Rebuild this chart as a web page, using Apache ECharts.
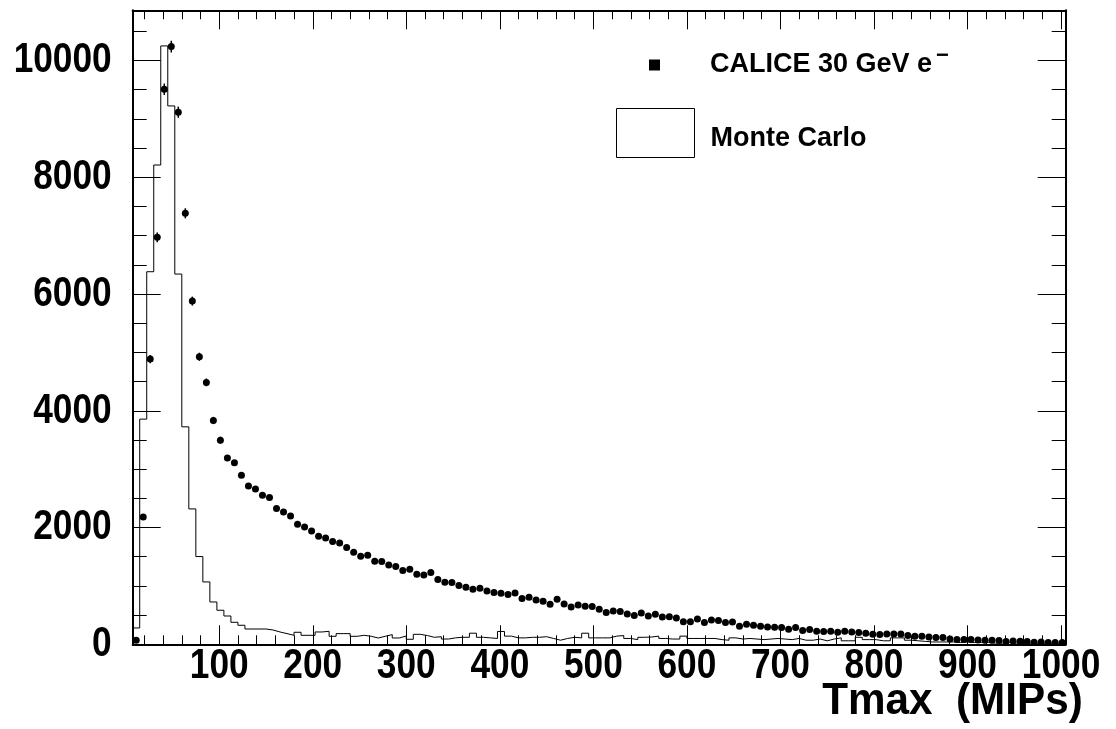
<!DOCTYPE html>
<html><head><meta charset="utf-8">
<script src="https://cdn.jsdelivr.net/npm/echarts@6/dist/echarts.min.js"></script>
<style>html,body{margin:0;padding:0;background:#fff}#c{width:1116px;height:729px}</style>
</head><body><div id="c"></div>
<script>
// Histogram binning (Tmax in MIPs)
const binLow = 7.5;
const binWidth = 7.5;

// CALICE 30 GeV e- data, counts per bin
const dataValues = [
  69, 2182, 4885, 6971, 9508, 10238, 9114, 7383, 5879, 4925,
  4486, 3834, 3497, 3193, 3108, 2897, 2713, 2662, 2554, 2515,
  2326, 2268, 2199, 2057, 2011, 1942, 1851, 1822, 1760, 1736,
  1658, 1577, 1508, 1526, 1423, 1418, 1359, 1332, 1263, 1286,
  1200, 1188, 1229, 1109, 1063, 1058, 1006, 977, 943, 960,
  914, 886, 874, 852, 879, 783, 806, 759, 737, 686,
  771, 691, 639, 674, 651, 646, 600, 543, 571, 560,
  519, 495, 537, 485, 514, 466, 472, 450, 385, 385,
  434, 372, 417, 406, 372, 382, 309, 343, 326, 309,
  297, 291, 286, 257, 286, 235, 252, 223, 218, 223,
  206, 223, 211, 200, 189, 171, 166, 177, 177, 177,
  149, 137, 137, 125, 115, 115, 91, 81, 81, 81,
  74, 69, 69, 63, 46, 57, 51, 46, 34, 39,
  29, 29, 29
];
// visible error bars on the first bins
const dataErrors = [0, 47, 70, 84, 98, 101, 96, 86, 77, 70, 67, 62, 59];

// Monte Carlo histogram, counts per bin
const mcValues = [
  280, 3857, 6382, 8210, 10250, 9222, 6342, 3725, 2319, 1503,
  1068, 725, 583, 485, 377, 326, 262, 262, 262, 245,
  211, 183, 154, 206, 154, 154, 211, 223, 137, 183,
  183, 137, 154, 137, 108, 137, 166, 108, 142, 86,
  171, 150, 120, 130, 90, 110, 120, 120, 190, 120,
  110, 100, 220, 140, 110, 110, 120, 120, 130, 100,
  70, 100, 120, 110, 190, 110, 110, 110, 140, 150,
  100, 80, 120, 125, 140, 100, 90, 90, 140, 100,
  100, 100, 100, 80, 70, 110, 90, 100, 90, 80,
  90, 100, 90, 80, 100, 70, 70, 90, 60, 90,
  110, 60, 60, 120, 80, 80, 60, 60, 110, 110,
  70, 60, 50, 40, 40, 40, 40, 30, 40, 30,
  30, 30, 20, 20, 30, 20, 20, 20, 20, 20,
  20, 20, 20
];

// Axis ticks / labels
const xMajorTicks = [100, 200, 300, 400, 500, 600, 700, 800, 900, 1000];
const yMajorTicks = [0, 2000, 4000, 6000, 8000, 10000];
const xMinorTicks = [];
for (let v = 20; v <= 1000; v += 20) if (v % 100 !== 0) xMinorTicks.push(v);
const yMinorTicks = [];
for (let v = 500; v <= 10500; v += 500) if (v % 2000 !== 0) yMinorTicks.push(v);

const xTitle = 'Tmax  (MIPs)';
const legendData = 'CALICE 30 GeV e';
const legendMC = 'Monte Carlo';

const xMin = binLow, xMax = binLow + binWidth * mcValues.length;
const yMin = 0, yMax = 10860;

const dataPoints = dataValues.map((v, i) => [binLow + binWidth * (i + 0.5), v]);
const errPoints = dataErrors.map((e, i) => [binLow + binWidth * (i + 0.5), dataValues[i] - e, dataValues[i] + e]);
const mcPoints = mcValues.map((v, i) => [binLow + binWidth * i, v]);
mcPoints.push([xMax, mcValues[mcValues.length - 1]]);

const sans = '"Liberation Sans", Arial, Helvetica, sans-serif';
const black = '#000';
const condense = 0.82; // Helvetica-Bold rendered narrow, as in the reference

function xAx(pos, ticks, len, line) {
  return {
    type: 'value', min: xMin, max: xMax, position: pos,
    axisLine: { show: line, onZero: false, lineStyle: { color: black, width: 2 } },
    axisTick: { show: true, inside: true, length: len, customValues: ticks, lineStyle: { color: black, width: 1 } },
    axisLabel: { show: false },
    splitLine: { show: false }
  };
}
function yAx(pos, ticks, len, line) {
  return {
    type: 'value', min: yMin, max: yMax, position: pos,
    axisLine: { show: line, onZero: false, lineStyle: { color: black, width: 2 } },
    axisTick: { show: true, inside: true, length: len, customValues: ticks, lineStyle: { color: black, width: 1 } },
    axisLabel: { show: false },
    splitLine: { show: false }
  };
}

const chart = echarts.init(document.getElementById('c'), null, { renderer: 'canvas' });
chart.setOption({
  backgroundColor: '#fff',
  animation: false,
  grid: { left: 132.7, right: 50.3, top: 10.3, bottom: 84.7, show: false, containLabel: false, outerBoundsMode: 'none' },
  xAxis: [
    xAx('bottom', xMajorTicks, 19, true),
    xAx('bottom', xMinorTicks, 9, false),
    xAx('top', xMajorTicks, 19, true),
    xAx('top', xMinorTicks, 9, false)
  ],
  yAxis: [
    yAx('left', yMajorTicks, 28, true),
    yAx('left', yMinorTicks, 14, false),
    yAx('right', yMajorTicks, 28, true),
    yAx('right', yMinorTicks, 14, false)
  ],
  legend: [
    {
      data: [legendData], left: 649, top: 45, padding: 0, icon: 'rect', itemWidth: 11, itemHeight: 11, itemGap: 0,
      itemStyle: { color: black },
      textStyle: {
        rich: {
          a: { fontFamily: sans, fontWeight: 'bold', fontSize: 27, color: black, lineHeight: 40, verticalAlign: 'middle', padding: [0, 0, 0, 45] },
          s: { fontFamily: sans, fontWeight: 'bold', fontSize: 22, color: black, lineHeight: 22, verticalAlign: 'top', padding: [0, 0, 0, 4] }
        }
      },
      formatter: function (n) { return '{a|' + n + '}{s|\u2212}'; },
      selectedMode: false
    },
    {
      data: [legendMC], left: 616, top: 108, padding: 0, icon: 'rect', itemWidth: 78, itemHeight: 49,
      itemStyle: { color: '#fff', borderColor: black, borderWidth: 1 },
      textStyle: {
        rich: {
          m: { fontFamily: sans, fontWeight: 'bold', fontSize: 27, color: black, padding: [12, 0, 0, 11] }
        }
      },
      formatter: function (n) { return '{m|' + n + '}'; },
      selectedMode: false
    }
  ],
  series: [
    {
      name: legendMC, type: 'line', step: 'end', data: mcPoints, symbol: 'none',
      lineStyle: { color: black, width: 1 }, itemStyle: { color: black }, z: 2
    },
    {
      name: legendData, type: 'scatter', data: dataPoints, symbol: 'circle', symbolSize: 7,
      itemStyle: { color: black, opacity: 1 }, z: 4
    },
    {
      name: 'err', type: 'custom', data: errPoints, z: 3,
      renderItem: function (params, api) {
        const p1 = api.coord([api.value(0), api.value(1)]);
        const p2 = api.coord([api.value(0), api.value(2)]);
        return { type: 'line', shape: { x1: p1[0], y1: p1[1], x2: p2[0], y2: p2[1] }, style: { stroke: black, lineWidth: 1.5 } };
      }
    }
  ]
});

// Tick labels, placed through the axes' own scales (narrow bold text like the reference)
function label(txt, x, y, align, size, sx) {
  return {
    type: 'text', x: x, y: y, scaleX: sx, scaleY: 1, originX: 0, originY: 0, silent: true,
    style: {
      text: txt, x: 0, y: 0, font: 'bold ' + size + 'px ' + sans, fill: black,
      align: align, textAlign: align, verticalAlign: 'middle', textVerticalAlign: 'middle'
    }
  };
}
const y0px = chart.convertToPixel({ yAxisIndex: 0 }, 0);
const x0px = chart.convertToPixel({ xAxisIndex: 0 }, xMin);
const xMaxPx = chart.convertToPixel({ xAxisIndex: 0 }, xMax);
const graphics = [];
xMajorTicks.forEach(function (v) {
  graphics.push(label(String(v), chart.convertToPixel({ xAxisIndex: 0 }, v), y0px + 21.5, 'center', 43, condense));
});
yMajorTicks.forEach(function (v) {
  graphics.push(label(String(v), x0px - 21, chart.convertToPixel({ yAxisIndex: 0 }, v), 'right', 43, condense));
});
graphics.push(label(xTitle, xMaxPx + 17, y0px + 58, 'right', 44, 0.96));
chart.setOption({ graphic: graphics });
</script></body></html>
